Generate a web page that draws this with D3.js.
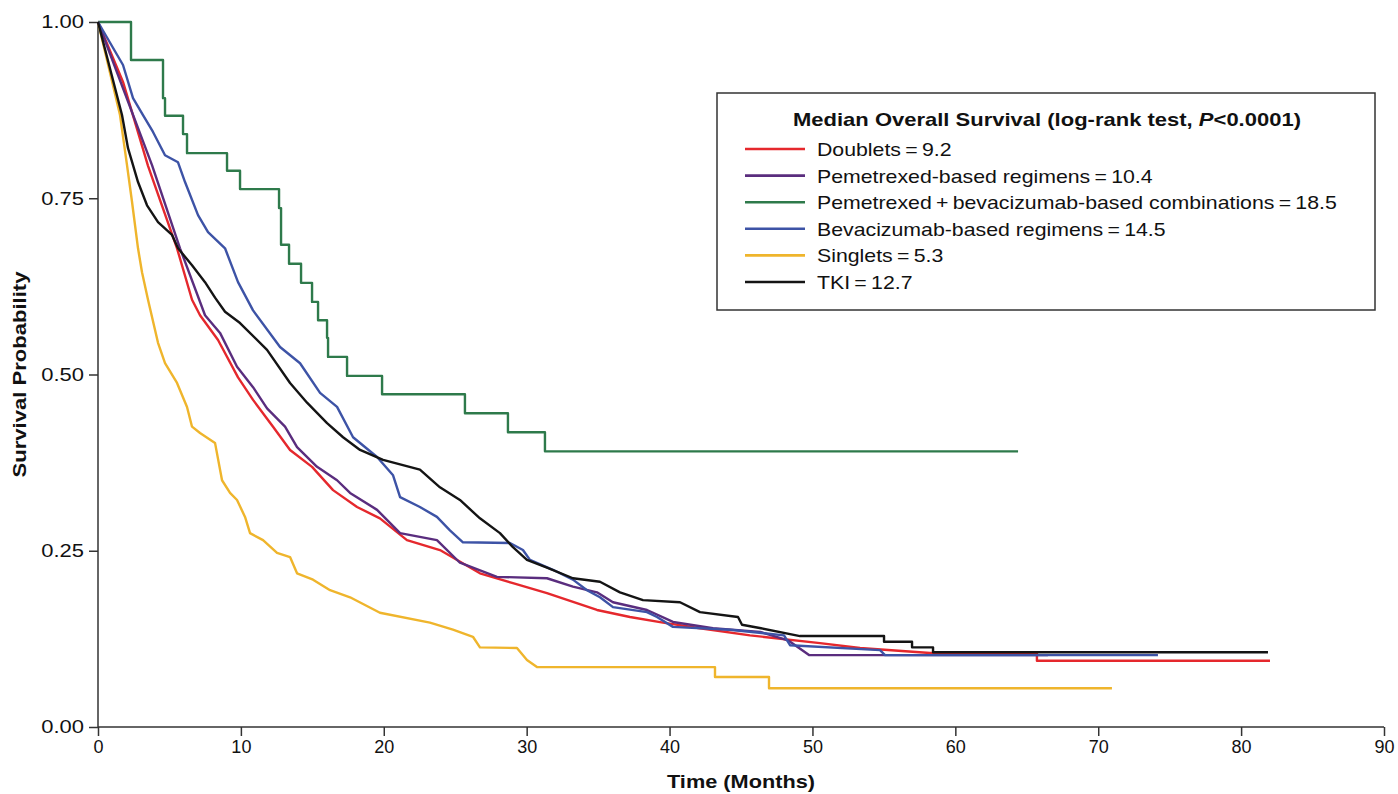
<!DOCTYPE html>
<html>
<head>
<meta charset="utf-8">
<script src="https://cdn.jsdelivr.net/npm/d3@7"></script>
<style>
  body { margin: 0; background: #fff; }
  text { font-family: "Liberation Sans", Arial, sans-serif; }
</style>
</head>
<body>
<svg width="1398" height="794"></svg>
<script>

// Kaplan-Meier curves: [months, survival]
var doublets = [[0,1],[1.75,0.915],[3.5,0.796],[5.53,0.679],[6.58,0.606],[7.14,0.584],[8.4,0.549],[9.8,0.496],[10.85,0.464],[12.25,0.426],[13.44,0.393],[14.98,0.369],[16.45,0.336],[18.13,0.312],[19.73,0.296],[21.62,0.265],[23.93,0.251],[26.73,0.218],[29.04,0.204],[31.42,0.19],[34.92,0.166],[37.23,0.156],[39.54,0.148],[42.13,0.14],[45.63,0.13],[50.53,0.119],[53.33,0.112],[58.23,0.105],[65.71,0.105],[65.71,0.094],[82.02,0.094]]
var pemetrexed = [[0,1],[3.78,0.797],[5.74,0.679],[7.49,0.584],[8.54,0.559],[9.73,0.511],[10.85,0.482],[11.83,0.452],[13.09,0.426],[13.93,0.397],[15.33,0.369],[16.73,0.35],[17.64,0.332],[19.53,0.308],[21.14,0.275],[23.72,0.265],[25.33,0.233],[27.92,0.213],[31.42,0.211],[33.24,0.199],[34.92,0.191],[36.04,0.177],[38.42,0.166],[40.24,0.149],[43.04,0.14],[46.33,0.135],[48.29,0.123],[49.76,0.102],[66.48,0.102]]
var pemBev = [[0,1],[2.31,0.946],[4.55,0.892],[4.69,0.867],[5.95,0.841],[6.23,0.814],[9.03,0.789],[9.94,0.763],[12.67,0.736],[12.81,0.684],[13.37,0.657],[14.21,0.63],[14.98,0.603],[15.4,0.577],[16.03,0.552],[16.1,0.525],[17.43,0.498],[19.88,0.472],[25.68,0.445],[28.69,0.418],[31.28,0.391],[64.39,0.391]]
var bevacizumab = [[0,1],[1.75,0.939],[2.45,0.892],[3.15,0.868],[3.85,0.844],[4.69,0.811],[5.6,0.801],[6.09,0.773],[7.0,0.726],[7.7,0.702],[8.89,0.679],[9.8,0.631],[10.85,0.591],[12.74,0.539],[14.14,0.516],[15.54,0.474],[16.73,0.454],[17.85,0.411],[19.53,0.383],[20.65,0.357],[21.14,0.326],[22.53,0.312],[23.72,0.298],[24.63,0.279],[25.54,0.262],[28.83,0.261],[29.74,0.251],[30.23,0.237],[31.84,0.223],[33.24,0.209],[34.22,0.194],[35.13,0.184],[36.04,0.17],[38.42,0.163],[39.12,0.156],[40.24,0.142],[44.23,0.138],[48.01,0.13],[48.43,0.116],[54.73,0.109],[55.08,0.102],[74.18,0.102]]
var singlets = [[0,1],[1.54,0.868],[2.03,0.797],[2.38,0.745],[2.8,0.679],[3.08,0.645],[3.5,0.606],[4.2,0.545],[4.69,0.516],[5.53,0.488],[6.23,0.454],[6.58,0.426],[7.14,0.417],[8.19,0.403],[8.68,0.35],[9.24,0.332],[9.73,0.322],[10.29,0.298],[10.64,0.275],[11.55,0.265],[12.53,0.247],[13.44,0.241],[13.93,0.218],[15.05,0.209],[16.24,0.194],[17.64,0.184],[19.73,0.162],[23.23,0.148],[24.84,0.138],[26.24,0.128],[26.73,0.113],[29.32,0.112],[30.02,0.095],[30.72,0.085],[43.18,0.085],[43.18,0.071],[46.96,0.071],[46.96,0.055],[70.96,0.055]]
var tki = [[0,1],[1.68,0.868],[2.1,0.821],[2.8,0.773],[3.43,0.74],[4.2,0.716],[5.18,0.698],[5.6,0.679],[6.58,0.655],[7.49,0.631],[8.19,0.609],[8.89,0.589],[9.94,0.573],[11.83,0.535],[13.44,0.488],[14.63,0.46],[16.03,0.431],[17.15,0.411],[18.34,0.393],[19.95,0.379],[22.53,0.365],[23.93,0.34],[25.33,0.322],[26.73,0.296],[28.13,0.275],[29.04,0.255],[30.02,0.237],[31.42,0.226],[33.24,0.211],[35.13,0.206],[36.53,0.191],[38.14,0.18],[40.73,0.177],[42.13,0.163],[44.79,0.156],[45.07,0.145],[46.4,0.14],[49.13,0.129],[55.01,0.129],[55.01,0.121],[56.97,0.121],[56.97,0.113],[58.44,0.113],[58.44,0.106],[81.88,0.106]]

var seriesNames = ["Doublets", "Pemetrexed-based regimens", "Pemetrexed\u2009+\u2009bevacizumab-based combinations", "Bevacizumab-based regimens", "Singlets", "TKI"]
var medians = ["9.2", "10.4", "18.5", "14.5", "5.3", "12.7"]
var seriesData = [doublets, pemetrexed, pemBev, bevacizumab, singlets, tki]
var colors = ["#e5282d", "#5a2d7e", "#2e7a4b", "#3d53a6", "#efb52c", "#141414"]
// drawing order in the plot (black on top of the cluster)
var drawOrder = [4, 2, 0, 1, 3, 5]

var xTicks = [0, 10, 20, 30, 40, 50, 60, 70, 80, 90]
var yTicks = [0, 0.25, 0.5, 0.75, 1]

var svg = d3.select("svg")

var margin_left = 98
var margin_right = 14
var margin_top = 22
var margin_bottom = 67
var width = 1398
var height = 794

var xScale = d3.scaleLinear().domain([0, 90]).range([margin_left, width - margin_right])
var yScale = d3.scaleLinear().domain([0, 1]).range([height - margin_bottom, margin_top])

function stretch(sel, k) {
    sel.each(function() {
        var w = this.getComputedTextLength()
        d3.select(this).attr("textLength", w * k).attr("lengthAdjust", "spacingAndGlyphs")
    })
}

// axes
var xAxis = d3.axisBottom(xScale).tickValues(xTicks).tickSize(9).tickPadding(4).tickFormat(d3.format("d"))
var yAxis = d3.axisLeft(yScale).tickValues(yTicks).tickSize(9).tickPadding(5).tickFormat(d3.format(".2f"))

var gx = svg.append("g")
    .attr("transform", "translate(0," + yScale(0) + ")")
    .call(xAxis)
gx.select(".domain").attr("d", "M" + xScale(0) + ",0H" + xScale(90))

var gy = svg.append("g")
    .attr("transform", "translate(" + xScale(0) + ",0)")
    .call(yAxis)
gy.select(".domain").attr("d", "M0," + yScale(0) + "V" + yScale(1))

svg.selectAll(".domain, .tick line").attr("stroke", "#333").attr("stroke-width", 1.5)
gx.selectAll("text").attr("font-size", 18).attr("fill", "#111")
    .attr("font-family", "Liberation Sans, Arial, sans-serif")
gy.selectAll("text").attr("font-size", 18).attr("fill", "#111")
    .attr("font-family", "Liberation Sans, Arial, sans-serif")
stretch(gy.selectAll("text"), 1.22)

// axis titles
svg.append("text")
    .attr("x", (xScale(0) + xScale(90)) / 2)
    .attr("y", 788)
    .attr("text-anchor", "middle")
    .attr("font-size", 19)
    .attr("font-weight", "bold")
    .attr("fill", "#111")
    .attr("textLength", 148)
    .attr("lengthAdjust", "spacingAndGlyphs")
    .text("Time (Months)")

svg.append("text")
    .attr("transform", "translate(26," + ((yScale(0) + yScale(1)) / 2) + ") rotate(-90)")
    .attr("text-anchor", "middle")
    .attr("font-size", 18)
    .attr("font-weight", "bold")
    .attr("fill", "#111")
    .attr("textLength", 206)
    .attr("lengthAdjust", "spacingAndGlyphs")
    .text("Survival Probability")

// curves
var line = d3.line()
    .x(d => xScale(d[0]))
    .y(d => yScale(d[1]))

drawOrder.forEach(function(i) {
    var l = i == 2 ? line.curve(d3.curveStepAfter) : line.curve(d3.curveLinear)
    svg.append("path")
        .attr("d", l(seriesData[i]))
        .attr("fill", "none")
        .attr("stroke", colors[i])
        .attr("stroke-width", 2.4)
        .attr("stroke-linejoin", "round")
})

// legend
var legend = svg.append("g").attr("transform", "translate(717,93)")

legend.append("rect")
    .attr("width", 658)
    .attr("height", 217)
    .attr("fill", "#fff")
    .attr("stroke", "#333")
    .attr("stroke-width", 1.5)

var title = legend.append("text")
    .attr("x", 330)
    .attr("y", 33)
    .attr("text-anchor", "middle")
    .attr("font-size", 19)
    .attr("font-weight", "bold")
    .attr("fill", "#111")
title.append("tspan").text("Median Overall Survival (log-rank test, ")
title.append("tspan").attr("font-style", "italic").text("P")
title.append("tspan").text("<0.0001)")
title.attr("textLength", 508).attr("lengthAdjust", "spacingAndGlyphs")

var rows = legend.selectAll(".row")
    .data(seriesNames)
    .enter()
    .append("g")
    .attr("class", "row")
    .attr("transform", (d, i) => "translate(0," + (56 + i * 26.6) + ")")

rows.append("line")
    .attr("x1", 28).attr("x2", 88)
    .attr("stroke", (d, i) => colors[i])
    .attr("stroke-width", 2.6)

var labels = rows.append("text")
    .attr("x", 100)
    .attr("y", 7)
    .attr("font-size", 19)
    .attr("fill", "#111")
    .text((d, i) => d + "\u2009=\u2009" + medians[i])
stretch(labels, 1.12)

</script>
</body>
</html>
